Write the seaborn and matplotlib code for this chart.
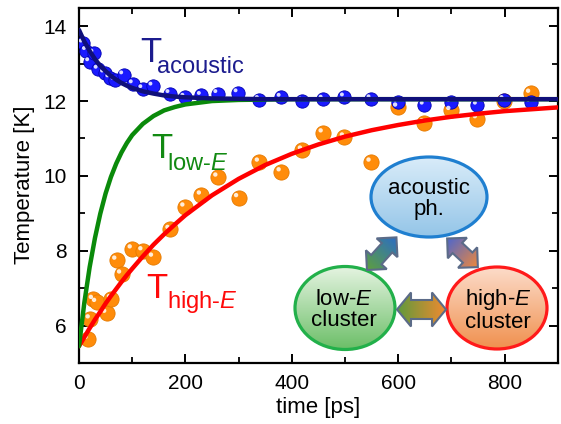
import numpy as np
import pandas as pd
import matplotlib
matplotlib.use("Agg")
import matplotlib.pyplot as plt
import seaborn as sns
from matplotlib.patches import Ellipse, Polygon
from matplotlib.transforms import offset_copy
from matplotlib.ticker import MultipleLocator
from matplotlib.colors import to_rgb

# ---------------- data ----------------
t_acoustic = [8, 14, 20, 28, 36, 48, 58, 68, 84, 102, 120, 139, 171, 199, 230, 261,
              299, 339, 380, 420, 459, 499, 549, 599, 649, 699, 749, 799, 849]
T_acoustic = [13.55, 13.35, 13.05, 13.28, 12.85, 12.75, 12.62, 12.55, 12.70, 12.46, 12.33,
              12.40, 12.20, 12.10, 12.15, 12.20, 12.22, 12.04, 12.10, 12.00, 12.05, 12.11,
              12.06, 11.97, 11.89, 11.97, 11.89, 12.04, 11.97]

t_high = [17, 21, 27, 33, 52, 61, 71, 80, 100, 120, 140, 171, 199, 230, 261, 300, 339,
          380, 420, 459, 499, 549, 599, 649, 699, 749, 799, 849]
T_high = [5.63, 6.18, 6.70, 6.62, 6.33, 6.72, 7.75, 7.38, 8.05, 8.00, 7.83, 8.57, 9.17,
          9.49, 9.97, 9.42, 10.37, 10.11, 10.69, 11.15, 11.04, 10.37, 11.84, 11.42, 11.75,
          11.53, 11.99, 12.21]

# fitted curves
t_fit = [0, 10, 20, 30, 40, 50, 60, 70, 80, 90, 100, 120, 140, 160, 180, 200, 250, 300,
         350, 400, 450, 500, 550, 600, 650, 700, 750, 800, 850, 900]
fit_acoustic = [13.90, 13.59, 13.34, 13.12, 12.94, 12.80, 12.67, 12.57, 12.48, 12.41, 12.35,
                12.26, 12.20, 12.15, 12.12, 12.10, 12.07, 12.06, 12.05, 12.05, 12.05, 12.05,
                12.05, 12.05, 12.05, 12.05, 12.05, 12.05, 12.05, 12.05]
fit_low = [5.45, 6.61, 7.56, 8.34, 8.99, 9.53, 9.97, 10.33, 10.63, 10.88, 11.09, 11.39,
           11.60, 11.75, 11.84, 11.91, 12.00, 12.03, 12.04, 12.05, 12.05, 12.05, 12.05,
           12.05, 12.05, 12.05, 12.05, 12.05, 12.05, 12.05]
fit_high = [5.45, 5.69, 5.93, 6.16, 6.37, 6.59, 6.79, 6.98, 7.17, 7.35, 7.52, 7.85, 8.16,
            8.44, 8.70, 8.95, 9.48, 9.92, 10.29, 10.59, 10.84, 11.05, 11.22, 11.36, 11.48,
            11.58, 11.66, 11.73, 11.78, 11.83]

x_ticks = [0, 200, 400, 600, 800]
y_ticks = [6, 8, 10, 12, 14]

# ---------------- style ----------------
sns.set_style("ticks")
plt.rcParams["font.family"] = ["Liberation Sans", "DejaVu Sans"]
plt.rcParams["mathtext.fontset"] = "custom"
plt.rcParams["mathtext.rm"] = "Liberation Sans"
plt.rcParams["mathtext.it"] = "Liberation Sans:italic"
for k in ["text.color", "axes.labelcolor", "xtick.color", "ytick.color", "axes.edgecolor"]:
    plt.rcParams[k] = "black"

W, H = 561, 424
fig = plt.figure(figsize=(W / 100, H / 100), dpi=100)
ax = fig.add_axes([79 / W, 1 - 363 / H, (557.7 - 79) / W, (363 - 7.5) / H])

df_ac = pd.DataFrame({"t": t_acoustic, "T": T_acoustic})
df_hi = pd.DataFrame({"t": t_high, "T": T_high})
df_fit = pd.DataFrame({"t": t_fit, "ac": fit_acoustic, "low": fit_low, "high": fit_high})

# balls
sns.scatterplot(data=df_hi, x="t", y="T", ax=ax, s=120, color="#ff8c0a",
                edgecolor="#e47a00", linewidth=0.6, zorder=3, legend=False)
sns.scatterplot(data=df_hi, x="t", y="T", ax=ax, s=10, color="white",
                edgecolor="none", alpha=0.85, zorder=3.1, legend=False)
ax.collections[-1].set_offset_transform(offset_copy(ax.transData, fig, x=-2.5, y=2.5, units="dots"))
sns.scatterplot(data=df_ac, x="t", y="T", ax=ax, s=92, color="#1a1aff",
                edgecolor="#0000b0", linewidth=0.6, zorder=3, legend=False)
sns.scatterplot(data=df_ac, x="t", y="T", ax=ax, s=8, color="white",
                edgecolor="none", alpha=0.85, zorder=3.1, legend=False)
ax.collections[-1].set_offset_transform(offset_copy(ax.transData, fig, x=-2.5, y=2.5, units="dots"))

# curves
sns.lineplot(data=df_fit, x="t", y="high", ax=ax, color="#ff0000", lw=3.2, zorder=4)
sns.lineplot(data=df_fit, x="t", y="low", ax=ax, color="#0a8a0a", lw=3.2, zorder=4)
sns.lineplot(data=df_fit, x="t", y="ac", ax=ax, color="#10107a", lw=3.2, zorder=4)

ax.set_xlim(0, 900)
ax.set_ylim(5, 14.5)
ax.set_xticks(x_ticks)
ax.set_yticks(y_ticks)
ax.xaxis.set_minor_locator(MultipleLocator(100))
ax.yaxis.set_minor_locator(MultipleLocator(1))
ax.tick_params(which="both", direction="in", top=True, right=True, width=1.4,
               labelsize=15, color="black", labelcolor="black")
ax.tick_params(which="major", length=6.5)
ax.tick_params(which="minor", length=4, width=1.3)
ax.tick_params(axis="y", which="major", pad=9)
ax.tick_params(axis="x", which="major", pad=8)
for sp in ax.spines.values():
    sp.set_linewidth(1.6)
    sp.set_color("black")
ax.set_xlabel("time [ps]", fontsize=16, color="black")
ax.set_ylabel("Temperature [K]", fontsize=16, color="black")
ax.xaxis.set_label_coords(0.5, -0.096)
ax.yaxis.set_label_coords(-0.092, 0.5)

# ---------------- overlay in pixel coordinates ----------------
ov = fig.add_axes([0, 0, 1, 1])
ov.set_xlim(0, W)
ov.set_ylim(0, H)
ov.axis("off")


def P(y):
    return H - y


def grad_image(x0, x1, y0, y1, c_from, c_to, direction):
    n = 200
    xs = np.linspace(x0, x1, n)
    ys = np.linspace(y0, y1, n)
    XX, YY = np.meshgrid(xs, ys)
    d = np.array(direction, float)
    d /= np.linalg.norm(d)
    proj = XX * d[0] + YY * d[1]
    f = (proj - proj.min()) / (proj.max() - proj.min())
    a = np.array(to_rgb(c_from))
    b = np.array(to_rgb(c_to))
    return a[None, None, :] * (1 - f[..., None]) + b[None, None, :] * f[..., None]


def grad_patch(patch, c_from, c_to, direction, z):
    ov.add_patch(patch)
    bb = patch.get_path().transformed(patch.get_patch_transform()).get_extents()
    img = grad_image(bb.x0, bb.x1, bb.y0, bb.y1, c_from, c_to, direction)
    im = ov.imshow(img, extent=(bb.x0, bb.x1, bb.y0, bb.y1), origin="lower",
                   zorder=z, interpolation="bilinear", aspect="auto")
    im.set_clip_path(patch)
    return im


def ellipse(cx, cy, w, h, top, bottom, edge):
    e = Ellipse((cx, P(cy)), w, h, facecolor="none", edgecolor="none")
    grad_patch(e, bottom, top, (0, 1), 5)
    ov.add_patch(Ellipse((cx, P(cy)), w, h, facecolor="none", edgecolor=edge, lw=2.3, zorder=6))
    ov.set_xlim(0, W)
    ov.set_ylim(0, H)


def arrow(cx, cy, L, hw, sw, hl, angle_deg, c_from, c_to):
    pts = np.array([(-L / 2, 0), (-L / 2 + hl, hw), (-L / 2 + hl, sw), (L / 2 - hl, sw),
                    (L / 2 - hl, hw), (L / 2, 0), (L / 2 - hl, -hw), (L / 2 - hl, -sw),
                    (-L / 2 + hl, -sw), (-L / 2 + hl, -hw)])
    a = np.deg2rad(angle_deg)
    R = np.array([[np.cos(a), -np.sin(a)], [np.sin(a), np.cos(a)]])
    pts = pts @ R.T + np.array([cx, P(cy)])
    poly = Polygon(pts, closed=True, facecolor="none", edgecolor="none")
    grad_patch(poly, c_from, c_to, (np.cos(a), np.sin(a)), 5)
    ov.add_patch(Polygon(pts, closed=True, facecolor="none", edgecolor="#5b6b88",
                         lw=1.5, zorder=6, joinstyle="miter"))
    ov.set_xlim(0, W)
    ov.set_ylim(0, H)


ellipse(429, 197, 116, 80, "#d9ecf9", "#94c5e8", "#1f7fd0")
ellipse(345, 308, 100, 83, "#e6f4e2", "#6cbf68", "#22b04a")
ellipse(497, 308, 100, 82, "#fcdcca", "#f0904e", "#ff1a1a")

arrow(421.5, 309.5, 49, 17, 9.5, 14, 0, "#5e9a3c", "#f08a30")
arrow(381.7, 253.7, 44, 14, 7, 14, 48, "#5fa03c", "#2b6cc8")
arrow(462.5, 252.8, 42, 14, 7, 14, -43, "#4a66d0", "#f0883a")

fs_in = 16
ov.text(429, P(199), "acoustic\nph.", ha="center", va="center", fontsize=fs_in,
        linespacing=1.0, zorder=7, color="black")
ov.text(344, P(310), "low-$E$\ncluster", ha="center", va="center", fontsize=fs_in,
        linespacing=1.0, zorder=7, color="black")
ov.text(498, P(310), "high-$E$\ncluster", ha="center", va="center", fontsize=fs_in,
        linespacing=1.0, zorder=7, color="black")

# curve labels
ov.text(140, P(61.5), "T", fontsize=25, color="#1c1c8e", va="baseline", ha="left", zorder=7)
ov.text(157, P(73), "acoustic", fontsize=17, color="#1c1c8e", va="baseline", ha="left", zorder=7)
ov.text(151, P(158), "T", fontsize=25, color="#128a12", va="baseline", ha="left", zorder=7)
ov.text(167, P(170), "low-$E$", fontsize=17, color="#128a12", va="baseline", ha="left", zorder=7)
ov.text(146, P(298.5), "T", fontsize=25, color="#ff0a0a", va="baseline", ha="left", zorder=7)
ov.text(167, P(308), "high-$E$", fontsize=17, color="#ff0a0a", va="baseline", ha="left", zorder=7)

fig.savefig("out.png", dpi=100)
